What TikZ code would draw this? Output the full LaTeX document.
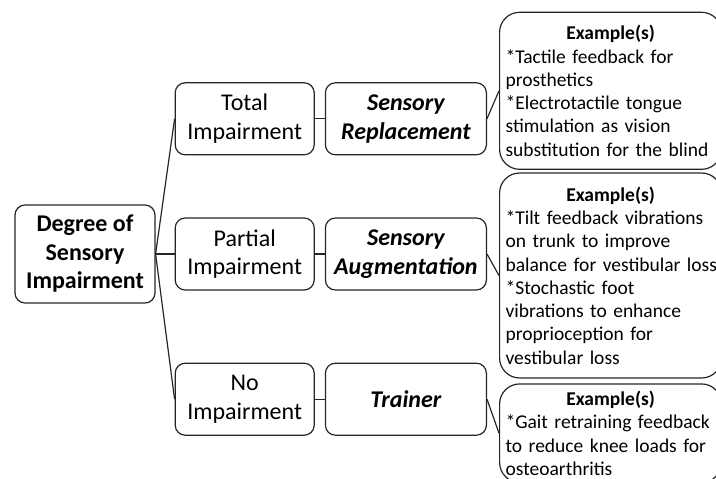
\documentclass[tikz,border=0pt]{standalone}
\usepackage{fontspec}
\setmainfont{Carlito}
\usetikzlibrary{positioning}

\begin{document}
\begin{tikzpicture}[x=1pt, y=1pt, node distance={10pt},
	main/.style = {draw=black!85, line width=1.2pt, rounded corners=10pt, align=center, minimum width=139pt, minimum height=72pt, inner sep=2pt, font=\fontsize{24}{28.5}\selectfont},
	kind/.style = {main, minimum width=161pt, font=\fontsize{24}{28.5}\selectfont\bfseries\itshape},
	ex/.style = {draw=black!85, line width=1.2pt, rounded corners=20pt, align=left, text width=210pt, inner xsep=6pt, inner ysep=7pt, font=\fontsize{19.5}{23.3}\selectfont},
	link/.style = {draw=black!85, line width=1.2pt}]
		\useasboundingbox (0,0) rectangle (716,-479);
		\node[main, minimum width=140pt, minimum height=98pt, font=\fontsize{24}{28.5}\selectfont\bfseries] (1) at (85,-254) {Degree of\\Sensory\\Impairment};
		\node[main] (3) [right=19pt of 1] {Partial\\Impairment};
		\node[main] (2) [above=62pt of 3] {Total\\Impairment};
		\node[main] (4) [below=72pt of 3] {No\\Impairment};
		\node[kind] (5) [right=of 2] {Sensory\\Replacement};
		\node[kind] (6) [right=of 3] {Sensory\\Augmentation};
		\node[kind] (7) [right=of 4] {Trainer};
		\node[ex, minimum height=157pt] (8) [right=12pt of 5, yshift=28pt] {\makebox[210pt]{\bfseries Example(s)}\\{}*Tactile feedback for\\prosthetics\\{}*Electrotactile tongue\\stimulation as vision\\substitution for the blind};
		\node[ex, minimum height=205pt] (9) [right=12pt of 6, yshift=-21.5pt] {\makebox[210pt]{\bfseries Example(s)}\\{}*Tilt feedback vibrations\\on trunk to improve\\\mbox{balance for vestibular loss}\\{}*Stochastic foot\\vibrations to enhance\\proprioception for\\vestibular loss};
		\node[ex] (10) [right=12pt of 7, yshift=-34pt] {\makebox[210pt]{\bfseries Example(s)}\\{}*Gait retraining feedback\\to reduce knee loads for\\osteoarthritis};
		\draw[link] (1.east) -- (2.west);
		\draw[link] (1.east) -- (3.west);
		\draw[link] (1.east) -- (4.west);
		\draw[link] (2) -- (5);
		\draw[link] (3) -- (6);
		\draw[link] (4) -- (7);
		\draw[link] (5.east) -- (8.west);
		\draw[link] (6.east) -- (9.west);
		\draw[link] (7.east) -- (10.west);
	\end{tikzpicture}
\end{document}
